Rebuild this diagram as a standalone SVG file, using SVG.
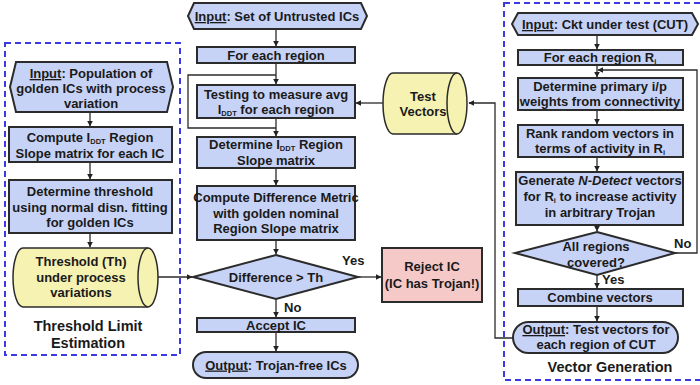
<svg xmlns="http://www.w3.org/2000/svg" width="700" height="385" viewBox="0 0 700 385">
<defs>
<marker id="ah" viewBox="0 0 10 10" refX="9" refY="5" markerWidth="6" markerHeight="6" orient="auto" markerUnits="userSpaceOnUse"><path d="M0,0 L10,5 L0,10 Z" fill="#222"/></marker>
<style>
.bx{fill:#c7d3f6;stroke:#2b2b2b;stroke-width:2}
.cy{fill:#f6f2b2;stroke:#2b2b2b;stroke-width:1.5}
.rj{fill:#f6c9c9;stroke:#2b2b2b;stroke-width:2}
.dash{fill:none;stroke:#3a3ae0;stroke-width:2;stroke-dasharray:6,4}
.t{font-family:"Liberation Sans",Arial,sans-serif;font-weight:bold;font-size:13px;fill:#1a1a1a;text-anchor:middle}
.ttl{font-family:"Liberation Sans",Arial,sans-serif;font-weight:bold;font-size:14.5px;fill:#1a1a1a;text-anchor:middle}
.lb{font-family:"Liberation Sans",Arial,sans-serif;font-weight:bold;font-size:13px;fill:#1a1a1a}
.c{fill:none;stroke:#2b2b2b;stroke-width:1.3}
.u{text-decoration:underline}
.s{font-size:7.5px}
</style>
</defs>
<rect width="700" height="385" fill="#ffffff"/>

<!-- dashed regions -->
<g id="region-threshold">
<rect class="dash" x="5" y="43" width="175" height="312"/>
<text class="ttl" x="88" y="331">Threshold Limit</text>
<text class="ttl" x="88" y="348">Estimation</text>
</g>
<g id="region-vector">
<rect class="dash" x="504" y="3" width="200" height="377"/>
<text class="ttl" x="610" y="372">Vector Generation</text>
</g>

<!-- connectors -->
<g id="connectors">
<path class="c" d="M90,112 V126" marker-end="url(#ah)"/>
<path class="c" d="M90,162 V179" marker-end="url(#ah)"/>
<path class="c" d="M90,233 V247" marker-end="url(#ah)"/>
<path class="c" d="M158,277 H192" marker-end="url(#ah)"/>

<path class="c" d="M276,29 V46" marker-end="url(#ah)"/>
<path class="c" d="M276,63 V84" marker-end="url(#ah)"/>
<path class="c" d="M276,128 H188 V75 H276"/>
<path class="c" d="M276,118 V136" marker-end="url(#ah)"/>
<path class="c" d="M276,168 V185" marker-end="url(#ah)"/>
<path class="c" d="M276,240 V254" marker-end="url(#ah)"/>
<path class="c" d="M276,299 V317" marker-end="url(#ah)"/>
<path class="c" d="M276,332 V351" marker-end="url(#ah)"/>
<path class="c" d="M358,277 H381" marker-end="url(#ah)"/>
<path class="c" d="M383,103 H356" marker-end="url(#ah)"/>

<path class="c" d="M597,35 V49" marker-end="url(#ah)"/>
<path class="c" d="M597,65 V77" marker-end="url(#ah)"/>
<path class="c" d="M597,110 V124" marker-end="url(#ah)"/>
<path class="c" d="M597,157 V171" marker-end="url(#ah)"/>
<path class="c" d="M597,225 V231" marker-end="url(#ah)"/>
<path class="c" d="M597,275 V288" marker-end="url(#ah)"/>
<path class="c" d="M597,306 V321" marker-end="url(#ah)"/>
<path class="c" d="M675,253 H697 V70 H598" marker-end="url(#ah)"/>
<path class="c" d="M513,338 H495 V103 H469" marker-end="url(#ah)"/>

<text class="lb" x="342" y="265">Yes</text>
<text class="lb" x="284" y="312">No</text>
<text class="lb" x="602" y="284">Yes</text>
<text class="lb" x="674" y="248">No</text>
</g>

<!-- left column -->
<g id="input-golden">
<path class="bx" d="M16,62 H167 L173,87 L167,112 H16 L10,87 Z"/>
<text class="t" x="91" y="78"><tspan class="u">Input</tspan>: Population of</text>
<text class="t" x="91" y="93">golden ICs with process</text>
<text class="t" x="91" y="108">variation</text>
</g>
<g id="compute-slope">
<rect class="bx" x="9" y="127" width="163" height="35"/>
<text class="t" x="90" y="142">Compute I<tspan class="s" dy="2">DDT</tspan><tspan dy="-2"> Region</tspan></text>
<text class="t" x="90" y="158">Slope matrix for each IC</text>
</g>
<g id="determine-threshold">
<rect class="bx" x="9" y="180" width="163" height="53"/>
<text class="t" x="90" y="196">Determine threshold</text>
<text class="t" x="90" y="212">using normal disn. fitting</text>
<text class="t" x="90" y="227">for golden ICs</text>
</g>
<g id="threshold-store">
<path class="cy" d="M23,248 H148 A10,29.5 0 0 1 148,307 H23 A10,29.5 0 0 1 23,248 Z"/>
<path class="cy" d="M148,248 A10,29.5 0 0 0 148,307"/>
<text class="t" x="81" y="266">Threshold (Th)</text>
<text class="t" x="81" y="282">under process</text>
<text class="t" x="81" y="297">variations</text>
</g>

<!-- center column -->
<g id="input-untrusted">
<path class="bx" d="M194,3 H361 L367,16 L361,29 H194 L188,16 Z"/>
<text class="t" x="277" y="21"><tspan class="u">Input</tspan>: Set of Untrusted ICs</text>
</g>
<g id="for-each-region">
<rect class="bx" x="197" y="47" width="158" height="16"/>
<text class="t" x="276" y="60">For each region</text>
</g>
<g id="testing">
<rect class="bx" x="197" y="85" width="158" height="33"/>
<text class="t" x="276" y="99">Testing to measure avg</text>
<text class="t" x="276" y="114">I<tspan class="s" dy="2">DDT</tspan><tspan dy="-2"> for each region</tspan></text>
</g>
<g id="determine-slope">
<rect class="bx" x="197" y="137" width="158" height="31"/>
<text class="t" x="276" y="149">Determine I<tspan class="s" dy="2">DDT</tspan><tspan dy="-2"> Region</tspan></text>
<text class="t" x="276" y="165">Slope matrix</text>
</g>
<g id="compute-difference">
<rect class="bx" x="197" y="186" width="158" height="54"/>
<text class="t" x="276" y="202">Compute Difference Metric</text>
<text class="t" x="276" y="218">with golden nominal</text>
<text class="t" x="276" y="233">Region Slope matrix</text>
</g>
<g id="difference-decision">
<path class="bx" d="M276,255 L358,277 L276,299 L193,277 Z"/>
<text class="t" x="276" y="282">Difference &gt; Th</text>
</g>
<g id="accept-ic">
<rect class="bx" x="197" y="318" width="158" height="14"/>
<text class="t" x="276" y="330">Accept IC</text>
</g>
<g id="output-trojan-free">
<rect class="bx" x="193" y="352" width="165" height="26" rx="13"/>
<text class="t" x="276" y="369.5"><tspan class="u">Output</tspan>: Trojan-free ICs</text>
</g>
<g id="reject-ic">
<rect class="rj" x="382" y="248" width="100" height="54"/>
<text class="t" x="432" y="271">Reject IC</text>
<text class="t" x="432" y="288">(IC has Trojan!)</text>
</g>
<g id="test-vectors">
<path class="cy" d="M393,73 H457 A10,30.5 0 0 1 457,134 H393 A10,30.5 0 0 1 393,73 Z"/>
<path class="cy" d="M457,73 A10,30.5 0 0 0 457,134"/>
<text class="t" x="423" y="101">Test</text>
<text class="t" x="423" y="116">Vectors</text>
</g>

<!-- right column -->
<g id="input-cut">
<path class="bx" d="M518,13 H692 L698,24 L692,35 H518 L512,24 Z"/>
<text class="t" x="605" y="29"><tspan class="u">Input</tspan>: Ckt under test (CUT)</text>
</g>
<g id="for-each-ri">
<rect class="bx" x="518" y="50" width="165" height="15"/>
<text class="t" x="600" y="62">For each region R<tspan class="s" dy="2">i</tspan></text>
</g>
<g id="determine-weights">
<rect class="bx" x="518" y="78" width="165" height="32"/>
<text class="t" x="600" y="91">Determine primary i/p</text>
<text class="t" x="600" y="106">weights from connectivity</text>
</g>
<g id="rank-vectors">
<rect class="bx" x="518" y="125" width="165" height="32"/>
<text class="t" x="600" y="138">Rank random vectors in</text>
<text class="t" x="600" y="153">terms of activity in R<tspan class="s" dy="2">i</tspan></text>
</g>
<g id="generate-ndetect">
<rect class="bx" x="516" y="172" width="167" height="53"/>
<text class="t" x="600" y="185">Generate <tspan font-style="italic">N-Detect</tspan> vectors</text>
<text class="t" x="600" y="201">for R<tspan class="s" dy="2">i</tspan><tspan dy="-2"> to increase activity</tspan></text>
<text class="t" x="600" y="217">in arbitrary Trojan</text>
</g>
<g id="all-regions-decision">
<path class="bx" d="M597,232 L675,253 L597,275 L515,253 Z"/>
<text class="t" x="596" y="251">All regions</text>
<text class="t" x="596" y="267">covered?</text>
</g>
<g id="combine-vectors">
<rect class="bx" x="518" y="289" width="165" height="17"/>
<text class="t" x="600" y="302">Combine vectors</text>
</g>
<g id="output-test-vectors">
<rect class="bx" x="513" y="322" width="165" height="31" rx="15.5"/>
<text class="t" x="596" y="334"><tspan class="u">Output</tspan>: Test vectors for</text>
<text class="t" x="596" y="349">each region of CUT</text>
</g>
</svg>
